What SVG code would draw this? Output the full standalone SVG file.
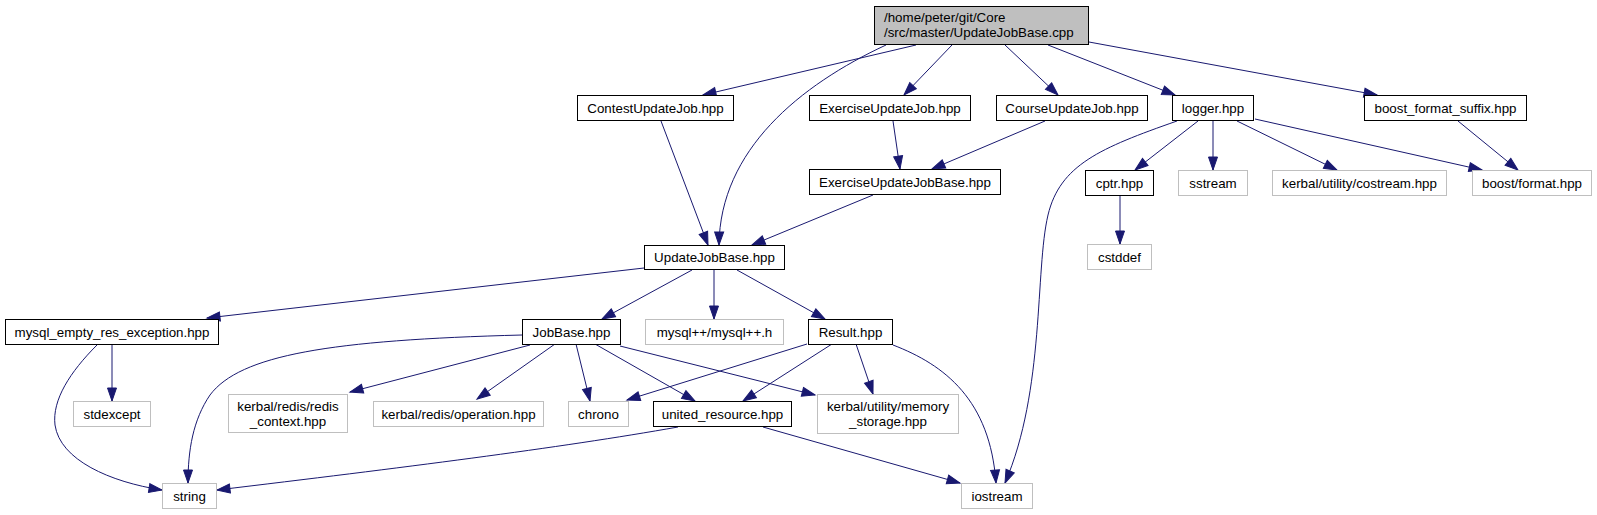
<svg xmlns="http://www.w3.org/2000/svg" width="1597" height="515" viewBox="0 0 1597 515">
<style>
text{font-family:"Liberation Sans",Arial,Helvetica,sans-serif;font-size:13.33px;fill:#000;text-anchor:middle}
.n rect{fill:#fff;stroke:#000;stroke-width:1}
.g rect{fill:#fff;stroke:#bfbfbf;stroke-width:1}
.r rect{fill:#bfbfbf;stroke:#000;stroke-width:1}
#edges path{fill:none;stroke:#191970;stroke-width:1;marker-end:url(#a)}
</style>
<defs>
<marker id="a" markerWidth="14" markerHeight="10" refX="13" refY="5" orient="auto" markerUnits="userSpaceOnUse" overflow="visible">
<path d="M0,0.5 L13,5 L0,9.5 z" fill="#191970" stroke="#191970" stroke-width="1"/>
</marker>
</defs>
<rect width="1597" height="515" fill="#fff"/>
<g id="edges">
<path d="M916,45 L703,95"/>
<path d="M886,45 C800,85 720,150 719,245"/>
<path d="M952,45 L904,95"/>
<path d="M1005,45 L1058,95"/>
<path d="M1048,45 L1175,95"/>
<path d="M1089,42 L1377,95"/>
<path d="M661,121 L708,245"/>
<path d="M893,121 L900,169"/>
<path d="M1045,121 L932,169"/>
<path d="M873,195 L752,245"/>
<path d="M1198,121 L1135,170"/>
<path d="M1213,121 L1213,170"/>
<path d="M1237,121 L1337,170"/>
<path d="M1255,119 L1482,170"/>
<path d="M1458,121 L1518,170"/>
<path d="M1177,121 C1100,148 1060,165 1048,215 C1035,270 1045,390 1005,483"/>
<path d="M1120,195 L1120,244"/>
<path d="M644,268 L207,318"/>
<path d="M692,270 L602,319"/>
<path d="M714,270 L714,319"/>
<path d="M737,270 L825,319"/>
<path d="M112,345 L112,401"/>
<path d="M97,345 C70,372 52,400 55,425 C60,460 110,482 162,490"/>
<path d="M522,335 C330,340 240,355 210,395 C193,420 188,450 188,483"/>
<path d="M530,345 L350,392"/>
<path d="M555,344 L477,399"/>
<path d="M576,344 L590,401"/>
<path d="M595,344 L695,401"/>
<path d="M620,346 L815,395"/>
<path d="M807,344 L627,400"/>
<path d="M832,344 L743,401"/>
<path d="M856,344 L873,394"/>
<path d="M893,345 C945,365 990,400 996,483"/>
<path d="M678,427 C560,448 400,468 217,490"/>
<path d="M763,427 L960,483"/>
</g>
<g id="root" class="r"><rect x="874.5" y="6.5" width="214" height="38"/><text x="884" y="22" style="text-anchor:start">/home/peter/git/Core</text><text x="884" y="37" style="text-anchor:start">/src/master/UpdateJobBase.cpp</text></g>
<g id="contest" class="n"><rect x="577.5" y="95.5" width="156" height="25"/><text x="655.5" y="112.5">ContestUpdateJob.hpp</text></g>
<g id="exercise" class="n"><rect x="809.5" y="95.5" width="161" height="25"/><text x="890" y="112.5">ExerciseUpdateJob.hpp</text></g>
<g id="course" class="n"><rect x="996.5" y="95.5" width="151" height="25"/><text x="1072" y="112.5">CourseUpdateJob.hpp</text></g>
<g id="logger" class="n"><rect x="1172.5" y="95.5" width="81" height="25"/><text x="1213" y="112.5">logger.hpp</text></g>
<g id="bfs" class="n"><rect x="1364.5" y="95.5" width="162" height="25"/><text x="1445.5" y="112.5">boost_format_suffix.hpp</text></g>
<g id="eujb" class="n"><rect x="809.5" y="169.5" width="191" height="25"/><text x="905" y="186.5">ExerciseUpdateJobBase.hpp</text></g>
<g id="cptr" class="n"><rect x="1085.5" y="170.5" width="68" height="25"/><text x="1119.5" y="187.5">cptr.hpp</text></g>
<g id="sstream" class="g"><rect x="1178.5" y="170.5" width="69" height="25"/><text x="1213" y="187.5">sstream</text></g>
<g id="costream" class="g"><rect x="1272.5" y="170.5" width="174" height="25"/><text x="1359.5" y="187.5">kerbal/utility/costream.hpp</text></g>
<g id="bformat" class="g"><rect x="1472.5" y="170.5" width="119" height="25"/><text x="1532" y="187.5">boost/format.hpp</text></g>
<g id="cstddef" class="g"><rect x="1087.5" y="244.5" width="64" height="25"/><text x="1119.5" y="261.5">cstddef</text></g>
<g id="ujb" class="n"><rect x="644.5" y="245.5" width="140" height="24"/><text x="714.5" y="262">UpdateJobBase.hpp</text></g>
<g id="mysqlempty" class="n"><rect x="5.5" y="319.5" width="213" height="25"/><text x="112" y="336.5">mysql_empty_res_exception.hpp</text></g>
<g id="jobbase" class="n"><rect x="522.5" y="319.5" width="98" height="25"/><text x="571.5" y="336.5">JobBase.hpp</text></g>
<g id="mysqlpp" class="g"><rect x="645.5" y="319.5" width="138" height="25"/><text x="714.5" y="336.5">mysql++/mysql++.h</text></g>
<g id="result" class="n"><rect x="808.5" y="319.5" width="84" height="25"/><text x="850.5" y="336.5">Result.hpp</text></g>
<g id="stdexcept" class="g"><rect x="73.5" y="401.5" width="77" height="25"/><text x="112" y="418.5">stdexcept</text></g>
<g id="redisctx" class="g"><rect x="228.5" y="394.5" width="119" height="38"/><text x="288" y="410.5">kerbal/redis/redis</text><text x="288" y="425.5">_context.hpp</text></g>
<g id="operation" class="g"><rect x="373.5" y="401.5" width="170" height="25"/><text x="458.5" y="418.5">kerbal/redis/operation.hpp</text></g>
<g id="chrono" class="g"><rect x="568.5" y="401.5" width="60" height="25"/><text x="598.5" y="418.5">chrono</text></g>
<g id="united" class="n"><rect x="653.5" y="401.5" width="138" height="25"/><text x="722.5" y="418.5">united_resource.hpp</text></g>
<g id="memstorage" class="g"><rect x="817.5" y="394.5" width="141" height="39"/><text x="888" y="410.5">kerbal/utility/memory</text><text x="888" y="425.5">_storage.hpp</text></g>
<g id="string" class="g"><rect x="162.5" y="483.5" width="54" height="25"/><text x="189.5" y="500.5">string</text></g>
<g id="iostream" class="g"><rect x="961.5" y="483.5" width="71" height="25"/><text x="997" y="500.5">iostream</text></g>
</svg>
